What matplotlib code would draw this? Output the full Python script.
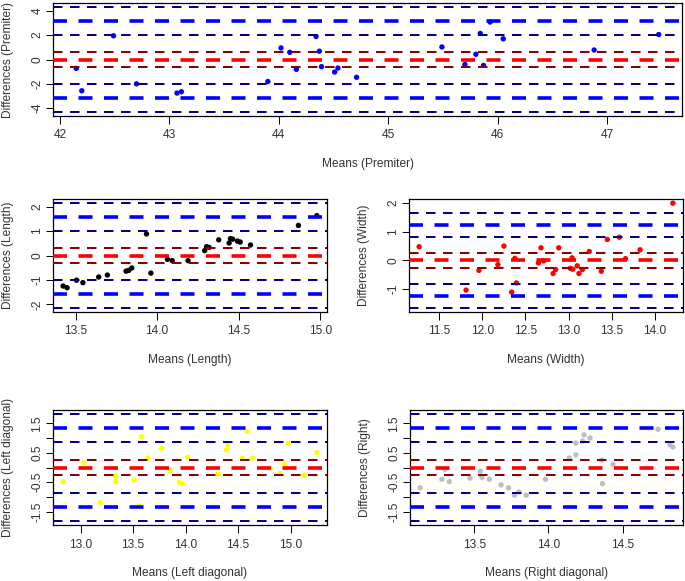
import numpy as np
import matplotlib
matplotlib.use("Agg")
import matplotlib.pyplot as plt

plt.rcParams['font.family'] = ['Liberation Sans', 'DejaVu Sans']
plt.rcParams['font.size'] = 8.6
plt.rcParams['lines.scale_dashes'] = False

# Premiter
prem_mean = [42.15, 42.20, 42.49, 42.70, 43.07, 43.11, 43.90, 44.02, 44.10, 44.16,
             44.34, 44.37, 44.39, 44.51, 44.54, 44.71, 45.49, 45.70, 45.80, 45.84,
             45.87, 45.93, 46.05, 46.88, 47.47]
prem_diff = [-0.73, -2.57, 1.95, -2.00, -2.76, -2.65, -1.81, 0.95, 0.59, -0.81,
             1.89, 0.68, -0.59, -1.03, -0.70, -1.46, 1.03, -0.41, 0.43, 2.14,
             -0.49, 3.08, 1.70, 0.78, 2.05]
# bias CI half width, limit of agreement, limit CI lower, limit CI upper
prem_bands = [0.64, 3.17, 2.05, 4.30]

# Length
len_mean = [13.424, 13.448, 13.506, 13.545, 13.642, 13.695, 13.81, 13.826, 13.845,
            13.935, 13.962, 14.064, 14.093, 14.19, 14.292, 14.304, 14.319, 14.378,
            14.442, 14.45, 14.464, 14.493, 14.51, 14.573, 14.867, 14.98]
len_diff = [-1.25, -1.32, -1.01, -1.11, -0.88, -0.80, -0.64, -0.61, -0.51,
            0.88, -0.72, -0.16, -0.21, -0.21, 0.20, 0.36, 0.33, 0.64,
            0.51, 0.69, 0.67, 0.59, 0.55, 0.43, 1.23, 1.63]
len_bands = [0.32, 1.56, 1.02, 2.14]

# Width
wid_mean = [11.266, 11.81, 11.96, 12.18, 12.25, 12.34, 12.376, 12.395, 12.65, 12.68,
            12.71, 12.82, 12.85, 12.886, 13.02, 13.04, 13.05, 13.10, 13.12, 13.16,
            13.24, 13.38, 13.45, 13.59, 13.66, 13.83, 14.21]
wid_diff = [0.475, -1.04, -0.35, -0.15, 0.50, -1.11, 0.07, -0.79, -0.09, 0.44,
            -0.02, -0.46, -0.32, 0.44, -0.28, 0.09, -0.31, -0.19, -0.46, -0.32,
            0.31, -0.38, 0.73, 0.81, 0.06, 0.37, 2.00]
wid_bands = [0.27, 1.23, 0.81, 1.66]

# Left diagonal
ldg_mean = [12.834, 13.03, 13.08, 13.19, 13.335, 13.335, 13.51, 13.555, 13.58,
            13.64, 13.77, 13.85, 13.94, 13.97, 14.02, 14.31, 14.39, 14.40, 14.54,
            14.585, 14.64, 14.805, 14.895, 14.94, 14.98, 15.13, 15.25]
ldg_diff = [-0.48, 0.15, -1.39, -1.19, -0.30, -0.48, -0.43, -1.31, 1.05,
            0.32, 0.64, -0.11, -0.50, -0.55, 0.35, -0.22, 0.60, 0.77, 0.32,
            1.23, 0.32, -0.02, -0.20, 0.11, 0.82, -0.26, 0.50]
ldg_bands = [0.27, 1.34, 0.87, 1.81]

# Right diagonal
rdg_mean = [13.133, 13.28, 13.30, 13.33, 13.47, 13.54, 13.55, 13.60, 13.68, 13.73,
            13.77, 13.80, 13.85, 13.98, 14.14, 14.185, 14.185, 14.23, 14.24, 14.28,
            14.36, 14.365, 14.435, 14.74, 14.82, 14.84]
rdg_diff = [-0.69, -0.40, -0.06, -0.48, -0.36, -0.125, -0.34, -0.40, -0.59, -0.69,
            -0.94, -0.83, -0.94, -0.40, 0.32, 0.43, 0.83, 0.90, 1.11, 1.00,
            0.25, -0.55, 0.11, 1.30, 0.77, 0.70]
rdg_bands = [0.27, 1.34, 0.87, 1.81]

W, H = 685, 581
fig = plt.figure(figsize=(W / 100, H / 100), dpi=100)


def make_axes(left, top, right, bottom):
    return fig.add_axes([left / W, 1 - bottom / H, (right - left) / W, (bottom - top) / H])


def r_range(values):
    lo, hi = min(values), max(values)
    pad = (hi - lo) * 0.04
    return lo - pad, hi + pad


def px2pt(v):
    return v * 0.72


def bland_altman(ax, means, diffs, bands, color, xticks, yticks, ylabels, xlabel, ylabel):
    ci, loa, loa_lo, loa_hi = bands
    ax.scatter(means, diffs, s=15, color=color, edgecolors='none', zorder=2)

    thin = dict(lw=px2pt(2), dashes=(px2pt(9.5), px2pt(7.5)), dash_capstyle='butt', zorder=3)
    thick = dict(lw=px2pt(3.6), dashes=(px2pt(14), px2pt(11.5)), dash_capstyle='butt', zorder=3)
    for v in (loa_hi, loa_lo, -loa_lo, -loa_hi):
        ax.axhline(v, color='#00008B', **thin)
    for v in (loa, -loa):
        ax.axhline(v, color='#0000FF', **thick)
    for v in (ci, -ci):
        ax.axhline(v, color='#8B0000', **thin)
    ax.axhline(0, color='#FF0000', **thick)

    ax.set_xlim(*r_range(means))
    ax.set_ylim(*r_range(list(diffs) + [loa_hi, -loa_hi]))
    ax.set_xticks(xticks)
    ax.set_xticklabels(xticks if isinstance(xticks[0], int) else ['%.1f' % t for t in xticks])
    ax.set_yticks(yticks)
    ax.set_yticklabels(ylabels, rotation=90, va='center')
    ax.tick_params(length=px2pt(7.5), width=0.7, pad=px2pt(6), labelcolor='#333333')
    ax.tick_params(axis='y', pad=px2pt(2))
    for sp in ax.spines.values():
        sp.set_linewidth(0.9)

    bb = ax.get_position()
    wpx, hpx = bb.width * W, bb.height * H
    ax.set_xlabel(xlabel, color='#333333', va='center')
    ax.xaxis.set_label_coords(0.5, -48 / hpx)
    ax.set_ylabel(ylabel, color='#333333', va='center')
    ax.yaxis.set_label_coords(-45 / wpx, 0.5)


ax1 = make_axes(53, 3, 682, 116)
bland_altman(ax1, prem_mean, prem_diff, prem_bands, '#0000FF',
             [42, 43, 44, 45, 46, 47], [-4, -2, 0, 2, 4], ['-4', '-2', '0', '2', '4'],
             'Means (Premiter)', 'Differences (Premiter)')

ax2 = make_axes(53, 199, 327, 312)
bland_altman(ax2, len_mean, len_diff, len_bands, '#000000',
             [13.5, 14.0, 14.5, 15.0], [-2, -1, 0, 1, 2], ['-2', '-1', '0', '1', '2'],
             'Means (Length)', 'Differences (Length)')

ax3 = make_axes(409, 199, 683, 312)
bland_altman(ax3, wid_mean, wid_diff, wid_bands, '#FF0000',
             [11.5, 12.0, 12.5, 13.0, 13.5, 14.0], [-1, 0, 1, 2], ['-1', '0', '1', '2'],
             'Means (Width)', 'Differences (Width)')

half_ticks = [-1.5, -1.0, -0.5, 0.0, 0.5, 1.0, 1.5]
half_labels = ['-1.5', '', '-0.5', '', '0.5', '', '1.5']

ax4 = make_axes(53, 410, 327, 525)
bland_altman(ax4, ldg_mean, ldg_diff, ldg_bands, '#FFFF00',
             [13.0, 13.5, 14.0, 14.5, 15.0], half_ticks, half_labels,
             'Means (Left diagonal)', 'Differences (Left diagonal)')

ax5 = make_axes(410, 410, 683, 525)
bland_altman(ax5, rdg_mean, rdg_diff, rdg_bands, '#BEBEBE',
             [13.5, 14.0, 14.5], half_ticks, half_labels,
             'Means (Right diagonal)', 'Differences (Right)')

fig.savefig('out.png', dpi=100)
